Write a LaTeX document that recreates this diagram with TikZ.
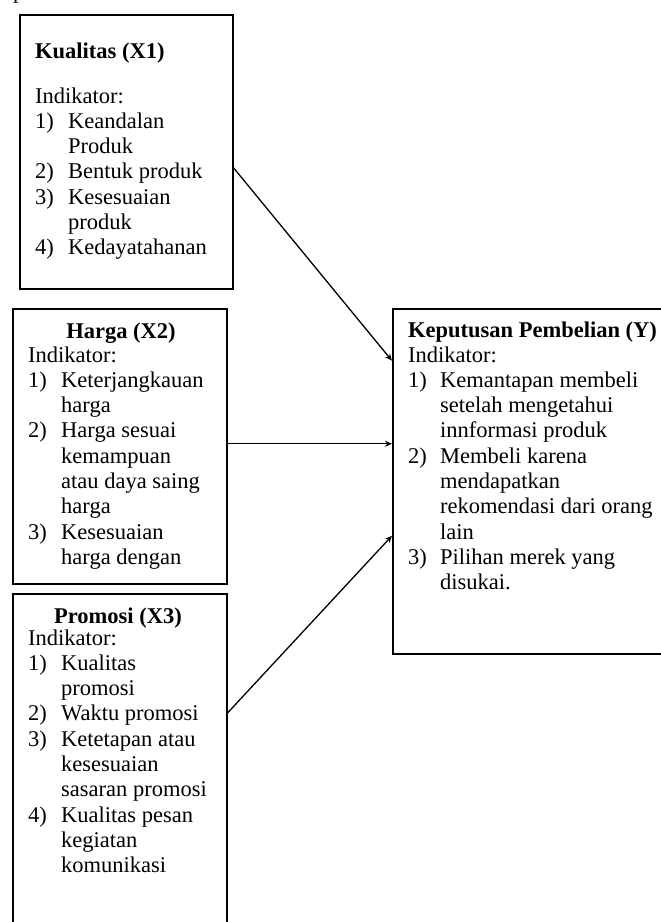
\documentclass[tikz,border=0pt]{standalone}
\usepackage{fontspec}
\setmainfont{Liberation Serif}
\usetikzlibrary{arrows.meta}
\newcommand\nm[1]{\makebox[33pt][l]{#1}}
\newcommand\nmy[1]{\makebox[32pt][l]{#1}}
\begin{document}
\begin{tikzpicture}[x=1pt,y=-1pt,
  box/.style={draw=black,line width=1.5pt,rectangle,inner sep=0pt,anchor=north west},
  txt/.style={inner sep=0pt,anchor=base west,font=\fontsize{22.5}{25.3}\selectfont},
  ttl/.style={inner sep=0pt,anchor=base,font=\fontsize{22.5}{25.3}\selectfont\bfseries},
  conn/.style={line width=1.3pt,-{Stealth[length=7pt,width=6pt]}}]
\useasboundingbox (0,0) rectangle (661,922);
\clip (0,0) rectangle (661,922);
\fill[white] (0,0) rectangle (661,922);
% fragment of text above
\node[txt] (pp) at (13,-2) {p};
% boxes
\node[box,minimum width=213pt,minimum height=274pt] (kb) at (19,14) {};
\node[box,minimum width=214pt,minimum height=275pt] (hb) at (12,308) {};
\node[box,minimum width=214pt,minimum height=400pt] (pb) at (12,593) {};
\node[box,minimum width=300pt,minimum height=345pt] (yb) at (392,308) {};
% Kualitas
\node[ttl,anchor=base west] (kt) at (35,58) {Kualitas (X1)};
\node[txt] (kl) at (35,103) {\begin{tabular}[t]{@{}l@{}}
Indikator:\\
\nm{1)}Keandalan\\
\nm{}Produk\\
\nm{2)}Bentuk produk\\
\nm{3)}Kesesuaian\\
\nm{}produk\\
\nm{4)}Kedayatahanan
\end{tabular}};
% Harga
\node[ttl] (ht) at (121,338) {Harga (X2)};
\node[txt] (hl) at (28,362) {\begin{tabular}[t]{@{}l@{}}
Indikator:\\
\nm{1)}Keterjangkauan\\
\nm{}harga\\
\nm{2)}Harga sesuai\\
\nm{}kemampuan\\
\nm{}atau daya saing\\
\nm{}harga\\
\nm{3)}Kesesuaian\\
\nm{}harga dengan
\end{tabular}};
% Promosi
\node[ttl] (pt) at (118,623) {Promosi (X3)};
\node[txt] (pl) at (28,645) {\begin{tabular}[t]{@{}l@{}}
Indikator:\\
\nm{1)}Kualitas\\
\nm{}promosi\\
\nm{2)}Waktu promosi\\
\nm{3)}Ketetapan atau\\
\nm{}kesesuaian\\
\nm{}sasaran promosi\\
\nm{4)}Kualitas pesan\\
\nm{}kegiatan\\
\nm{}komunikasi
\end{tabular}};
% Keputusan
\node[ttl,anchor=base west] (yt) at (408,337) {Keputusan Pembelian (Y)};
\node[txt] (yl) at (408,362) {\begin{tabular}[t]{@{}l@{}}
Indikator:\\
\nmy{1)}Kemantapan membeli\\
\nmy{}setelah mengetahui\\
\nmy{}innformasi produk\\
\nmy{2)}Membeli karena\\
\nmy{}mendapatkan\\
\nmy{}rekomendasi dari orang\\
\nmy{}lain\\
\nmy{3)}Pilihan merek yang\\
\nmy{}disukai.
\end{tabular}};
% connectors
\draw[conn] ([yshift=-16pt]kb.east) -- ([yshift=120.5pt]yb.west);
\draw[conn] ([yshift=2.5pt]hb.east) -- ([yshift=37.5pt]yb.west);
\draw[conn] ([yshift=-120pt]pb.north east) -- ([yshift=-54.5pt]yb.west);
\end{tikzpicture}
\end{document}
